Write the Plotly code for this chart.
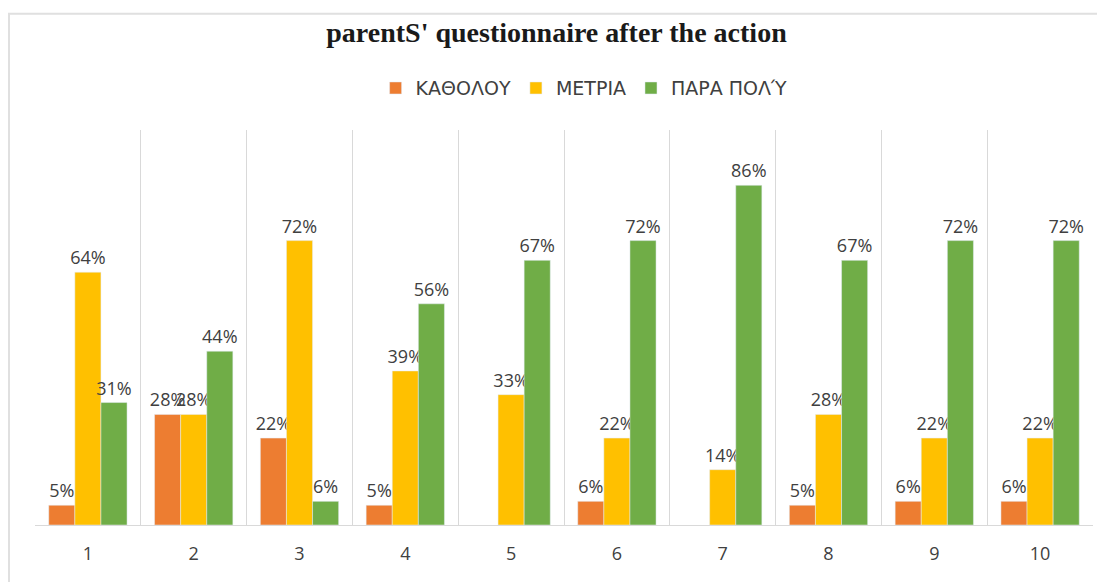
import plotly.graph_objects as go

categories = [1, 2, 3, 4, 5, 6, 7, 8, 9, 10]
series_names = ["ΚΑΘΟΛΟΥ", "ΜΕΤΡΙΑ", "ΠΑΡΑ ΠΟΛΎ"]
katholou = [0.05, 0.28, 0.22, 0.05, None, 0.06, None, 0.05, 0.06, 0.06]
metria = [0.64, 0.28, 0.72, 0.39, 0.33, 0.22, 0.14, 0.28, 0.22, 0.22]
para_poly = [0.31, 0.44, 0.06, 0.56, 0.67, 0.72, 0.86, 0.67, 0.72, 0.72]
colors = ["#ED7D31", "#FFC000", "#70AD47"]

LABEL_FONT = "Open Sans, Noto Sans, sans-serif"

fig = go.Figure()
for name, vals, col in zip(series_names, [katholou, metria, para_poly], colors):
    fig.add_trace(go.Bar(
        x=categories, y=vals, name=name, marker_color=col,
        text=[f"{round(v*100)}%" if v else "" for v in vals],
        textposition="outside", cliponaxis=False, constraintext="none",
        textfont=dict(family=LABEL_FONT, size=18, color="#404040"),
    ))

# page body adds 8px offset; figure sized to fill the remaining window
fig.update_layout(
    width=1097, height=574,
    paper_bgcolor="white", plot_bgcolor="white",
    barmode="group", bargap=0.26, bargroupgap=0,
    margin=dict(l=27, r=12, t=122, b=57),
    title=dict(text="<b>parentS' questionnaire after the action</b>", x=0.5, xanchor="center",
               y=0.958, yanchor="middle",
               font=dict(family="Liberation Serif, DejaVu Serif, serif", size=28, color="#1a1a1a")),
    legend=dict(orientation="h", x=0.519, xanchor="center", y=1.106, yanchor="middle",
                font=dict(family="DejaVu Sans, sans-serif", size=19, color="#404040"),
                itemwidth=30, traceorder="normal"),
    xaxis=dict(range=[0.5, 10.5], tickvals=categories, ticktext=[str(c) for c in categories],
               showgrid=False, showline=True, linecolor="#d9d9d9", linewidth=1,
               ticks="", ticklabelstandoff=12,
               tickfont=dict(family=LABEL_FONT, size=18, color="#404040"),
               minor=dict(tick0=0.5, dtick=1, showgrid=True, gridcolor="#d9d9d9", gridwidth=1),
               zeroline=False),
    yaxis=dict(range=[0, 1.0], visible=False, showgrid=False, zeroline=False),
)
fig.add_shape(type="rect", xref="paper", yref="paper", x0=-0.0246, x1=1.2, y0=-0.3, y1=1.294,
              line=dict(color="#e0e0e0", width=2), fillcolor="rgba(0,0,0,0)", layer="below")

fig.write_html("out.html")
